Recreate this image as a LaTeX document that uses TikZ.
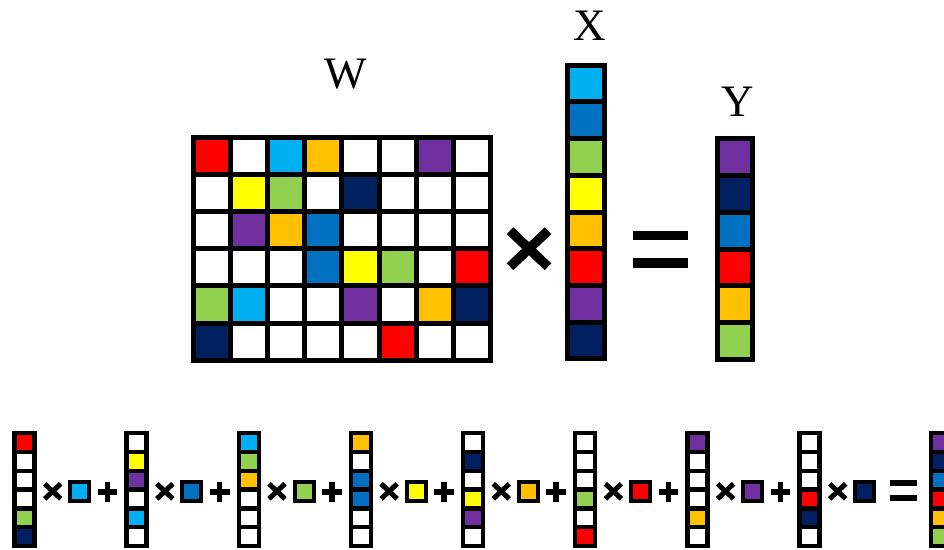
\documentclass[tikz,border=0pt]{standalone}
\usepackage{fontspec}
\setmainfont{Liberation Serif}
\definecolor{cR}{HTML}{FF0000}
\definecolor{cC}{HTML}{00B0F0}
\definecolor{cO}{HTML}{FFC000}
\definecolor{cP}{HTML}{7030A0}
\definecolor{cY}{HTML}{FFFF00}
\definecolor{cG}{HTML}{92D050}
\definecolor{cN}{HTML}{002060}
\definecolor{cB}{HTML}{0070C0}
\definecolor{wh}{HTML}{FFFFFF}
\newcommand{\colvec}[6]{%
  \foreach \cc [count=\jj from 0] in #6 {
    \filldraw[fill=\cc, draw=black, line width=#5] (#1,{#2+\jj*#4}) rectangle ++(#3,#4);
  }%
}
\begin{document}
\begin{tikzpicture}[x=1pt,y=-1pt,
  bigop/.style={line width=9.5pt, line cap=butt, draw=black},
  smallop/.style={line width=5pt, line cap=butt, draw=black},
  lbl/.style={anchor=base, inner sep=0pt, font=\fontsize{45}{50}\selectfont}]
\useasboundingbox (0,0) rectangle (944,549);
\clip (0,0) rectangle (944,549);

% labels
\node[lbl] (labW) at (345.8,88.3) {W};
\node[lbl] (labX) at (589.5,40.7) {X};
\node[lbl] (labY) at (737.5,116.7) {Y};

% W matrix
\foreach \row [count=\j from 0] in {%
  {cR,wh,cC,cO,wh,wh,cP,wh},
  {wh,cY,cG,wh,cN,wh,wh,wh},
  {wh,cP,cO,cB,wh,wh,wh,wh},
  {wh,wh,wh,cB,cY,cG,wh,cR},
  {cG,cC,wh,wh,cP,wh,cO,cN},
  {cN,wh,wh,wh,wh,cR,wh,wh}} {
  \foreach \c [count=\i from 0] in \row {
    \filldraw[fill=\c, draw=black, line width=5pt] ({193.5+\i*37.1},{137.5+\j*37.1}) rectangle ++(37.1,37.1);
  }
}

% main times
\draw[bigop] (510,230.7) -- (548,266.7);
\draw[bigop] (510,266.7) -- (548,230.7);

% X vector
\colvec{567.5}{65.2}{36.7}{36.7}{5pt}{{cC,cB,cG,cY,cO,cR,cP,cN}}

% main equals
\fill[black] (632.7,231) rectangle (688.3,240);
\fill[black] (632.7,258) rectangle (688.3,268);

% Y vector
\colvec{717.5}{138.5}{35}{36.85}{5pt}{{cP,cN,cB,cR,cO,cG}}

% bottom row
\foreach \cols/\sq [count=\k from 0] in {%
  {cR,wh,wh,wh,cG,cN}/cC,
  {wh,cY,cP,wh,cC,wh}/cB,
  {cC,cG,cO,wh,wh,wh}/cG,
  {cO,wh,cB,cB,wh,wh}/cY,
  {wh,cN,wh,cY,cP,wh}/cO,
  {wh,wh,wh,cG,wh,cR}/cR,
  {cP,wh,wh,wh,cO,wh}/cP,
  {wh,wh,wh,cR,cN,wh}/cN} {
  \pgfmathsetmacro{\L}{12.3+112.14*\k}
  \colvec{\L+2.2}{433}{20}{18.85}{4.4pt}{\cols}
  % small times
  \draw[smallop] ({\L+40.4-8},{491.3-7.5}) -- ({\L+40.4+8},{491.3+7.5});
  \draw[smallop] ({\L+40.4-8},{491.3+7.5}) -- ({\L+40.4+8},{491.3-7.5});
  % small square
  \filldraw[fill=\sq, draw=black, line width=4pt] ({\L+67.5-9.5},{491-9.5}) rectangle ({\L+67.5+9.5},{491+9.5});
  % plus
  \ifnum\k<7
    \draw[line width=5.5pt, draw=black] ({\L+95.3-9.8},492) -- ({\L+95.3+9.8},492);
    \draw[line width=5.5pt, draw=black] ({\L+95.3},{492-9.8}) -- ({\L+95.3},{492+9.8});
  \fi
}

% bottom equals
\fill[black] (890,480) rectangle (916.7,486);
\fill[black] (890,495) rectangle (916.7,501);

% bottom result vector
\colvec{931.2}{433}{20}{18.85}{4.4pt}{{cP,cN,cB,cR,cO,cG}}
\end{tikzpicture}
\end{document}
